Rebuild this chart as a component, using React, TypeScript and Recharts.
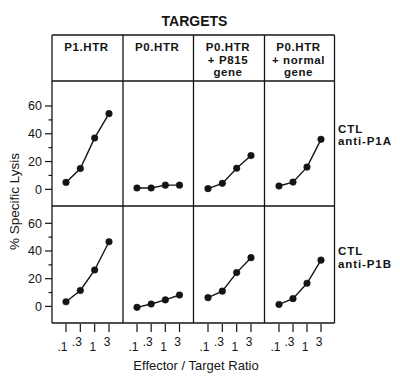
import React from 'react';
import { LineChart, Line, XAxis, YAxis } from 'recharts';

// ---- data ----
const ratios = ['.1', '.3', '1', '3'];
const targetHeaders: string[][] = [
  ['P1.HTR'],
  ['P0.HTR'],
  ['P0.HTR', '+ P815', 'gene'],
  ['P0.HTR', '+ normal', 'gene'],
];
const ctlLabels: string[][] = [
  ['CTL', 'anti-P1A'],
  ['CTL', 'anti-P1B'],
];
const yTicks = [0, 10, 20, 30, 40, 50, 60];

const p1aOnP1HTR = [5, 15, 37, 54.5];
const p1aOnP0HTR = [1, 1, 3, 3];
const p1aOnP815 = [0.5, 4.3, 15.2, 24.3];
const p1aOnNormal = [2.4, 5.2, 16, 36];
const p1bOnP1HTR = [3.3, 11.5, 26.3, 46.7];
const p1bOnP0HTR = [-0.7, 1.7, 4.7, 8.2];
const p1bOnP815 = [6.3, 11, 24.4, 35.2];
const p1bOnNormal = [1.4, 5.6, 16.7, 33.4];

const seriesGrid = [
  [p1aOnP1HTR, p1aOnP0HTR, p1aOnP815, p1aOnNormal],
  [p1bOnP1HTR, p1bOnP0HTR, p1bOnP815, p1bOnNormal],
];

// ---- layout ----
const colX = [52, 123, 193.5, 264.5, 334.5];
const rowY = [35, 81, 206, 323];
const yDomains: [number, number][] = [
  [-12, 78],
  [-12, 72.5],
];
const INK = '#141414';
const FONT = '"Liberation Sans", Arial, Helvetica, sans-serif';

const YTick = (props: any) => {
  const { x, y, payload } = props;
  const v = payload.value;
  const major = v % 20 === 0;
  return (
    <g>
      <line x1={x - (major ? 7 : 3.5)} x2={x} y1={y} y2={y} stroke={INK} strokeWidth={1.2} />
      {major && (
        <text x={x - 10} y={y} dy={4.3} textAnchor="end" fontSize={12.5} fontFamily={FONT} fill={INK}>
          {v}
        </text>
      )}
    </g>
  );
};

const XTick = (props: any) => {
  const { x, y, payload, index } = props;
  const low = index % 2 === 0;
  return (
    <g>
      <line x1={x} x2={x} y1={y + 1} y2={y + 9} stroke={INK} strokeWidth={1.2} />
      <text x={x + 1.5} y={y + (low ? 28 : 23)} textAnchor="end" fontSize={12} fontFamily={FONT} fill={INK}>
        {payload.value}
      </text>
    </g>
  );
};

function Panel({ values, col, row }: { values: number[]; col: number; row: number }) {
  const left = colX[col];
  const w = colX[col + 1] - colX[col];
  const top = rowY[row + 1];
  const h = rowY[row + 2] - rowY[row + 1];
  const showY = col === 0;
  const showX = row === 1;
  const yW = showY ? 52 : 0;
  const xH = showX ? 45 : 0;
  const data = ratios.map((r, i) => ({ ratio: r, v: values[i] }));
  return (
    <div style={{ position: 'absolute', left: left - yW, top, width: w + yW, height: h + xH }}>
      <LineChart width={w + yW} height={h + xH} data={data} margin={{ top: 0, right: 0, bottom: 0, left: 0 }}>
        <XAxis
          dataKey="ratio"
          type="category"
          hide={!showX}
          height={xH}
          padding={{ left: 14, right: 14 }}
          axisLine={false}
          tickLine={false}
          tickSize={0}
          tickMargin={0}
          interval={0}
          tick={(p: any) => <XTick {...p} />}
        />
        <YAxis
          type="number"
          domain={yDomains[row]}
          allowDataOverflow
          ticks={yTicks}
          hide={!showY}
          width={yW}
          axisLine={false}
          tickLine={false}
          tickSize={0}
          tickMargin={0}
          interval={0}
          tick={(p: any) => <YTick {...p} />}
        />
        <Line
          dataKey="v"
          type="linear"
          stroke={INK}
          strokeWidth={1.4}
          dot={{ r: 3.3, fill: INK, stroke: INK, strokeWidth: 0.5 }}
          isAnimationActive={false}
        />
      </LineChart>
    </div>
  );
}

export default function App() {
  const right = colX[colX.length - 1];
  return (
    <div style={{ position: 'absolute', left: 0, top: 0, width: 400, height: 377, background: '#fff', overflow: 'hidden' }}>
      {seriesGrid.map((rowVals, r) =>
        rowVals.map((vals, c) => <Panel key={`${r}-${c}`} values={vals} col={c} row={r} />)
      )}
      <svg width={400} height={377} style={{ position: 'absolute', left: 0, top: 0, pointerEvents: 'none' }}>
        {/* table lines */}
        {[rowY[0], rowY[1], rowY[2], rowY[3]].map((y, i) => (
          <line key={`h${i}`} x1={colX[0]} x2={right} y1={y} y2={y} stroke={INK} strokeWidth={1.3} />
        ))}
        {colX.map((x, i) => (
          <line key={`v${i}`} x1={x} x2={x} y1={rowY[0]} y2={rowY[3]} stroke={INK} strokeWidth={1.3} />
        ))}
        <text x={194.5} y={26} textAnchor="middle" fontSize={14} fontWeight="bold" fontFamily={FONT} fill={INK}>
          TARGETS
        </text>
        {targetHeaders.map((lines, c) =>
          lines.map((t, k) => (
            <text
              key={`th${c}-${k}`}
              x={(colX[c] + colX[c + 1]) / 2 - 1}
              y={51 + k * 12.6}
              textAnchor="middle"
              fontSize={11.5}
              letterSpacing={0.6}
              fontWeight="bold"
              fontFamily={FONT}
              fill={INK}
            >
              {t}
            </text>
          ))
        )}
        {ctlLabels.map((lines, r) =>
          lines.map((t, k) => (
            <text
              key={`ctl${r}-${k}`}
              x={338}
              y={(r === 0 ? 132.5 : 255) + k * 12.8}
              fontSize={11.5}
              letterSpacing={0.9}
              fontWeight="bold"
              fontFamily={FONT}
              fill={INK}
            >
              {t}
            </text>
          ))
        )}
        <text
          x={19}
          y={201.5}
          transform="rotate(-90, 19, 201.5)"
          textAnchor="middle"
          fontSize={13.5}
          fontFamily={FONT}
          fill={INK}
        >
          % Specific Lysis
        </text>
        <text x={196} y={370} textAnchor="middle" fontSize={13} fontFamily={FONT} fill={INK}>
          Effector / Target Ratio
        </text>
      </svg>
    </div>
  );
}
